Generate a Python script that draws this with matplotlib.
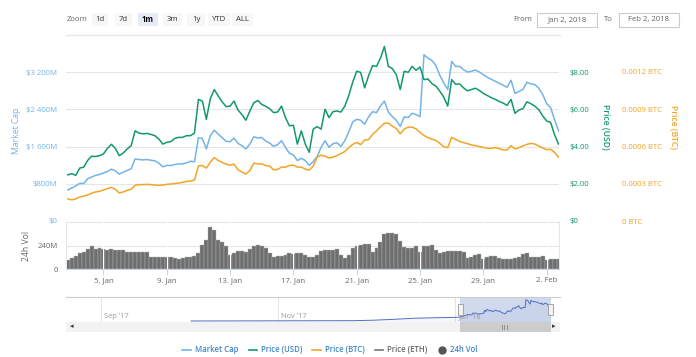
import numpy as np
import pandas as pd
import matplotlib
matplotlib.use('Agg')
import matplotlib.pyplot as plt
import matplotlib.dates as mdates
import matplotlib.transforms as mtransforms
from matplotlib.lines import Line2D
from matplotlib.patches import Rectangle

plt.rcParams['font.family'] = ['Open Sans', 'DejaVu Sans']

# ---- data (6-hourly from Jan 2 18:00) ----
usd = [2.48, 2.54, 2.45, 2.84, 2.89, 3.25, 3.48, 3.46, 3.51, 3.60,
       3.90, 4.12, 3.90, 3.51, 3.65, 3.87, 4.04, 4.84, 4.72, 4.68,
       4.70, 4.65, 4.58, 4.40, 4.13, 4.22, 4.26, 4.43, 4.49, 4.49,
       4.58, 4.58, 4.72, 6.53, 6.44, 5.46, 6.56, 7.06, 6.71, 6.40,
       6.14, 6.17, 6.44, 5.96, 5.71, 5.41, 5.91, 6.35, 6.47, 6.26,
       6.16, 6.03, 5.82, 5.85, 6.17, 5.55, 5.11, 5.14, 4.13, 4.84,
       4.13, 3.69, 4.93, 5.07, 4.93, 6.00, 5.55, 5.87, 5.91, 5.85,
       6.17, 6.74, 7.47, 8.04, 7.98, 7.15, 7.80, 8.34, 8.30, 8.74,
       9.37, 8.30, 8.18, 7.86, 7.06, 8.04, 7.98, 8.30, 8.09, 8.27,
       7.59, 7.63, 7.38, 7.24, 6.97, 6.65, 6.17, 7.59, 7.34, 7.36,
       7.15, 6.99, 7.06, 7.13, 7.01, 6.85, 6.74, 6.62, 6.53, 6.42,
       6.33, 6.21, 6.53, 5.78, 5.96, 6.03, 6.40, 6.30, 6.17, 5.98,
       5.64, 5.37, 5.29, 4.63, 4.13]

# market cap, millions USD
mcap = [667, 710, 752, 809, 802, 908, 944, 979, 1000, 1029,
        1064, 1114, 1078, 1007, 1050, 1086, 1121, 1334, 1320, 1313,
        1320, 1305, 1291, 1242, 1164, 1192, 1192, 1213, 1227, 1227,
        1249, 1284, 1270, 1788, 1774, 1547, 1831, 1951, 1866, 1788,
        1710, 1703, 1781, 1667, 1618, 1547, 1653, 1809, 1781, 1795,
        1717, 1674, 1603, 1639, 1724, 1582, 1454, 1419, 1298, 1348,
        1298, 1192, 1277, 1384, 1582, 1724, 1582, 1660, 1682, 1603,
        1724, 1916, 2129, 2185, 2164, 2079, 2235, 2348, 2327, 2469,
        2575, 2341, 2242, 2164, 2029, 2235, 2221, 2313, 2285, 2242,
        3569, 3498, 3448, 3342, 3129, 2966, 2824, 3427, 3320, 3320,
        3250, 3200, 3214, 3242, 3200, 3143, 3086, 3044, 3001, 2959,
        2916, 2873, 3022, 2739, 2781, 2824, 2980, 2944, 2930, 2852,
        2717, 2519, 2434, 2178, 1937]

# price in micro-BTC
btc = [178, 170, 178, 194, 200, 210, 224, 234, 239, 250,
       261, 271, 255, 226, 234, 247, 255, 287, 293, 293,
       295, 293, 290, 287, 290, 295, 298, 301, 306, 311,
       319, 322, 330, 444, 447, 426, 474, 511, 487, 471,
       458, 450, 458, 412, 394, 378, 407, 466, 460, 460,
       447, 442, 412, 415, 434, 434, 447, 450, 434, 434,
       418, 410, 442, 514, 530, 522, 508, 514, 527, 543,
       559, 591, 617, 633, 615, 652, 655, 697, 726, 758,
       788, 788, 764, 745, 702, 740, 756, 756, 742, 713,
       689, 671, 660, 649, 625, 599, 591, 673, 657, 641,
       631, 623, 612, 607, 599, 593, 585, 585, 591, 583,
       572, 572, 607, 580, 591, 604, 617, 625, 620, 604,
       588, 575, 577, 553, 514]

# 24h volume, millions USD
vol = [93, 110, 137, 165, 171, 202, 237, 209, 216, 202,
       195, 206, 199, 189, 189, 178, 178, 178, 178, 178,
       178, 123, 127, 127, 127, 127, 120, 110, 103, 113,
       127, 127, 134, 161, 247, 298, 430, 394, 298, 271,
       237, 147, 165, 182, 182, 171, 202, 237, 243, 233,
       216, 161, 120, 134, 134, 144, 161, 154, 161, 168,
       141, 120, 127, 147, 182, 189, 189, 195, 202, 144,
       113, 144, 219, 230, 247, 257, 254, 178, 213, 271,
       360, 367, 367, 360, 288, 223, 213, 216, 233, 178,
       230, 237, 243, 195, 161, 171, 182, 185, 185, 185,
       171, 113, 127, 141, 151, 103, 127, 134, 134, 110,
       99, 103, 106, 113, 127, 154, 168, 120, 127, 127,
       134, 93, 99, 99, 99]

times = pd.date_range('2018-01-02 18:00', periods=len(usd), freq='6h')

# navigator history before the zoomed month (weekly, millions USD)
nav_dates = pd.date_range('2017-10-02', periods=14, freq='7D')
nav_mcap = [20, 25, 30, 30, 35, 40, 45, 55, 70, 150, 300, 480, 550, 620]

mcap_ticks = [0, 800, 1600, 2400, 3200]
mcap_labels = ['$0', '$800M', '$1 600M', '$2 400M', '$3 200M']
usd_ticks = [0, 2, 4, 6, 8]
usd_labels = ['$0', '$2.00', '$4.00', '$6.00', '$8.00']
btc_ticks = [0, 300, 600, 900, 1200]
btc_labels = ['0 BTC', '0.0003 BTC', '0.0006 BTC', '0.0009 BTC', '0.0012 BTC']
vol_ticks = [0, 240]
vol_labels = ['0', '240M']
buttons = ['1d', '7d', '1m', '3m', '1y', 'YTD', 'ALL']

BLUE = '#74b3e8'
GREEN = '#12996b'
ORANGE = '#f3a427'
GREY = '#666666'
FS = 5.6

W, H = 696, 357


def px(x0, y0, x1, y1):
    return [x0 / W, 1 - y1 / H, (x1 - x0) / W, (y1 - y0) / H]


fig = plt.figure(figsize=(W / 100, H / 100), dpi=100)

x_start = pd.Timestamp('2018-01-02 15:13')
x_end = pd.Timestamp('2018-02-02 18:43')
frac = 181 / 149  # plot height over the 0..top-gridline span

# ---- main price panel ----
ax = fig.add_axes(px(66, 40, 559, 221))
ax.plot(times, mcap, color=BLUE, lw=1.1)
ax.set_ylim(0, 3200 * frac)
ax.set_yticks(mcap_ticks)
ax.set_yticklabels(mcap_labels)
ax.tick_params(axis='y', length=0, pad=6.5, labelsize=FS, labelcolor=BLUE)
ax.tick_params(axis='x', bottom=False, labelbottom=False)
ax.grid(axis='y', color='#e6e6e6', lw=0.8)
ax.set_axisbelow(True)
ax.set_ylabel('Market Cap', color=BLUE, fontsize=6.2)
ax.yaxis.set_label_coords(-0.092, 0.5)

ax_usd = ax.twinx()
ax_usd.plot(times, usd, color=GREEN, lw=1.1)
ax_usd.set_ylim(0, 8 * frac)
ax_usd.set_yticks(usd_ticks)
ax_usd.set_yticklabels(usd_labels)
ax_usd.tick_params(axis='y', length=0, pad=7.5, labelsize=FS, labelcolor=GREEN)
ax_usd.set_ylabel('Price (USD)', color=GREEN, fontsize=6.2, rotation=270,
                  fontweight='semibold')
ax_usd.yaxis.set_label_coords(1.103, 0.52)

ax_btc = ax.twinx()
ax_btc.plot(times, btc, color=ORANGE, lw=1.1)
ax_btc.set_ylim(0, 1200 * frac)
ax_btc.set_yticks(btc_ticks)
ax_btc.set_yticklabels(btc_labels)
ax_btc.tick_params(axis='y', length=0, pad=45, labelsize=FS, labelcolor=ORANGE)
ax_btc.set_ylabel('Price (BTC)', color=ORANGE, fontsize=6.2, rotation=270,
                  fontweight='semibold')
ax_btc.yaxis.set_label_coords(1.241, 0.52)

for a in (ax, ax_usd, ax_btc):
    for s in a.spines.values():
        s.set_visible(False)
ax.set_xlim(x_start, x_end)

# ---- volume panel ----
vax = fig.add_axes(px(66, 222, 559, 269))
vax.bar(times, vol, width=0.25, color='#6e6e6e', edgecolor='#b5b5b5', lw=0.3)
vax.set_ylim(0, 480)
vax.set_yticks(vol_ticks)
vax.set_yticklabels(vol_labels)
vax.grid(axis='y', color='#e6e6e6', lw=0.8)
vax.set_axisbelow(True)
vax.tick_params(axis='y', length=0, pad=6, labelsize=FS, labelcolor=GREY)
tick_dates = pd.date_range('2018-01-05', '2018-02-02', freq='4D')
vax.set_xticks(tick_dates)
vax.xaxis.set_major_formatter(mdates.DateFormatter('%-d. %b'))
vax.tick_params(axis='x', length=4, color='#ccd6eb', labelsize=FS,
                labelcolor=GREY, pad=2)
for t in tick_dates:
    vax.axvline(t, color='white', lw=0.8, zorder=3)
for s in vax.spines.values():
    s.set_color('#e6e6e6')
    s.set_linewidth(0.8)
vax.spines['bottom'].set_color('#ccd6eb')
vax.set_xlim(x_start, x_end)
vax.set_ylabel('24h Vol', color=GREY, fontsize=6.2)
vax.yaxis.set_label_coords(-0.072, 0.5)

# ---- navigator ----
nav = fig.add_axes(px(66, 297, 560, 322))
nav_x = list(nav_dates) + list(times)
nav_y = nav_mcap + mcap
nav.plot(nav_x, nav_y, color='#4f6fc4', lw=0.7)
nav.fill_between(nav_x, nav_y, -150, color='#4f6fc4', alpha=0.06, lw=0)
nav.set_xlim(pd.Timestamp('2017-08-20'), pd.Timestamp('2018-02-06'))
nav.set_ylim(-150, 4000)
nav_ticks = pd.to_datetime(['2017-09-01', '2017-11-01', '2018-01-01'])
for t in nav_ticks:
    nav.axvline(t, color='#e6e6e6', lw=0.8, zorder=0)
    nav.text(t, 0.06, t.strftime("%b '%y"), fontsize=5.3, color='#999999',
             ha='left', va='bottom',
             transform=mtransforms.offset_copy(
                 mtransforms.blended_transform_factory(nav.transData, nav.transAxes),
                 fig=fig, x=3, y=0, units='dots'))
nav.axvspan(x_start, x_end, color='#6685c2', alpha=0.3, lw=0)
nav.set_xticks([])
nav.set_yticks([])
for s in nav.spines.values():
    s.set_visible(False)
nav.spines['top'].set_visible(True)
nav.spines['top'].set_color('#cccccc')
nav.spines['top'].set_linewidth(0.8)
bt = mtransforms.blended_transform_factory(nav.transData, nav.transAxes)
for t in (x_start, x_end):
    c = mdates.date2num(t)
    nav.add_patch(Rectangle((c - 0.9, 0.3), 1.8, 0.42, transform=bt,
                            facecolor='#f2f2f2', edgecolor='#999999', lw=0.6,
                            zorder=5, clip_on=False))

# ---- scrollbar ----
sax = fig.add_axes(px(66, 322, 560, 332))
sax.set_facecolor('#f2f2f2')
sax.set_xlim(nav.get_xlim())
sax.set_ylim(0, 1)
sax.axvspan(x_start, x_end, color='#cccccc', lw=0)
sax.text(mdates.date2num(x_start) + (mdates.date2num(x_end) - mdates.date2num(x_start)) / 2,
         0.5, '|||', fontsize=4, color='#333333', ha='center', va='center')
sax.text(0.012, 0.5, '\u25c2', fontsize=5, color='#333333', ha='center', va='center',
         transform=sax.transAxes)
sax.text(0.988, 0.5, '\u25b8', fontsize=5, color='#333333', ha='center', va='center',
         transform=sax.transAxes)
sax.set_xticks([])
sax.set_yticks([])
for s in sax.spines.values():
    s.set_visible(False)

# ---- range selector & date inputs ----
fig.text(67 / W, 1 - 19.5 / H, 'Zoom', fontsize=FS, color=GREY, va='center')
btn_x = [92, 115, 138, 163, 187, 208, 232]
btn_w = [16, 17, 20, 19, 18, 22, 21]
for lab, bx, bw in zip(buttons, btn_x, btn_w):
    sel = lab == '1m'
    fig.add_artist(Rectangle((bx / W, 1 - 26 / H), bw / W, 13 / H,
                             transform=fig.transFigure,
                             facecolor='#e6ebf5' if sel else '#f7f7f7',
                             edgecolor='none'))
    fig.text((bx + bw / 2) / W, 1 - 19.5 / H, lab, fontsize=FS,
             color='#000000' if sel else '#333333',
             fontweight='bold' if sel else 'normal', ha='center', va='center')

fig.add_artist(Line2D([66 / W, 560 / W], [1 - 35 / H, 1 - 35 / H],
                      transform=fig.transFigure, color='#e6e6e6', lw=1))

fig.text(532 / W, 1 - 19.5 / H, 'From', fontsize=FS, color=GREY, ha='right', va='center')
fig.text(613 / W, 1 - 19.5 / H, 'To', fontsize=FS, color=GREY, ha='right', va='center')
for bx, txt in ((537, 'Jan 2, 2018'), (619, 'Feb 2, 2018')):
    fig.add_artist(Rectangle((bx / W, 1 - 27 / H), 60 / W, 14 / H,
                             transform=fig.transFigure, facecolor='white',
                             edgecolor='#cccccc', lw=0.8))
    fig.text((bx + 30) / W, 1 - 19.5 / H, txt, fontsize=FS, color=GREY,
             ha='center', va='center')

# ---- legend ----
handles = [Line2D([], [], color=BLUE, lw=1.2),
           Line2D([], [], color=GREEN, lw=1.2),
           Line2D([], [], color=ORANGE, lw=1.2),
           Line2D([], [], color='#777777', lw=1.2),
           Line2D([], [], color='#555555', marker='o', ls='none', markersize=5)]
labels = ['Market Cap', 'Price (USD)', 'Price (BTC)', 'Price (ETH)', '24h Vol']
leg = fig.legend(handles, labels, loc='center', bbox_to_anchor=(0.474, 1 - 350 / H),
                 ncol=5, frameon=False, fontsize=FS, handlelength=1.1,
                 columnspacing=1.3, handletextpad=0.5)
for txt, col in zip(leg.get_texts(), ['#3f86cc', '#3f86cc', '#3f86cc', '#666666', '#3f86cc']):
    txt.set_color(col)
    txt.set_fontweight('semibold')

fig.savefig('out.png', dpi=100)
